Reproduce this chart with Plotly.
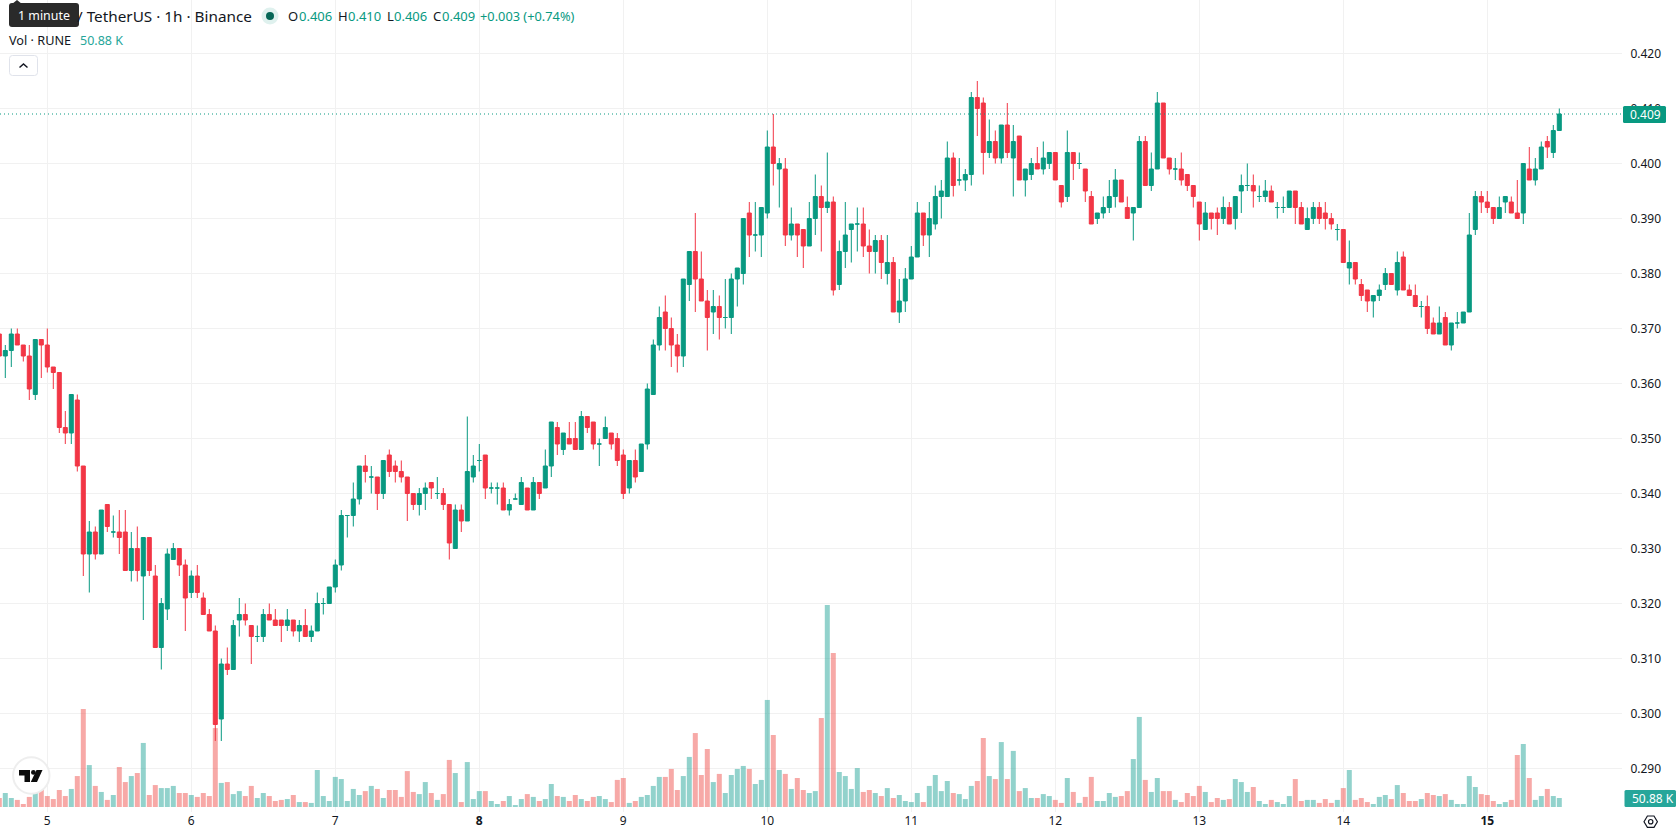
import plotly.graph_objects as go

# Hourly RUNE/USDT candles, hours counted from the start of day 5.
hours = list(range(-8, 253))

# Prices in thousandths of a USDT, one row per 24 hours.
opens_milli = [
    369, 365, 366, 369, 367, 365, 358, 368,
    367, 363, 362, 352, 351, 357, 345, 329, 333, 329, 338, 333, 333, 333, 326, 330, 325, 332, 325, 312, 319, 328, 330, 327,
    322, 325, 321, 318, 315, 299, 309, 308, 317, 318, 316, 314, 314, 318, 317, 317, 316, 317, 315, 316, 314, 315, 320, 320,
    323, 327, 336, 336, 339, 345, 343, 343, 340, 347, 345, 344, 343, 340, 338, 340, 342, 340, 340, 338, 330, 337, 335, 343,
    346, 347, 341, 341, 341, 337, 339, 338, 341, 337, 342, 341, 345, 352, 348, 350, 350, 348, 354, 353, 349, 350, 351, 350,
    347, 341, 346, 344, 349, 358, 367, 373, 370, 367, 365, 378, 384, 379, 375, 373, 374, 372, 372, 379, 380, 391, 387, 387,
    391, 403, 399, 399, 387, 389, 388, 385, 390, 394, 392, 393, 378, 384, 388, 389, 389, 385, 384, 386, 380, 382, 373, 375,
    379, 383, 391, 387, 389, 394, 394, 401, 397, 397, 398, 412, 411, 402, 404, 401, 407, 401, 405, 397, 398, 400, 399, 400,
    402, 396, 394, 402, 400, 399, 394, 390, 391, 392, 394, 397, 392, 391, 392, 404, 396, 399, 411, 401, 399, 399, 398, 396,
    393, 388, 391, 391, 390, 392, 390, 395, 396, 396, 394, 394, 395, 392, 392, 392, 395, 392, 388, 390, 392, 391, 390, 388,
    388, 381, 382, 378, 377, 375, 376, 378, 380, 377, 383, 377, 376, 374, 374, 371, 369, 372, 367, 371, 371, 373, 388, 394,
    393, 392, 390, 393, 393, 391, 391, 399, 397, 399, 404, 402, 406,
]
closes_milli = [
    365, 366, 369, 367, 365, 359, 368, 367,
    363, 362, 352, 351, 358, 345, 329, 333, 329, 337, 334, 333, 332, 326, 330, 326, 332, 326, 312, 320, 329, 330, 327, 321,
    325, 322, 318, 315, 298, 309, 308, 316, 318, 317, 314, 314, 318, 317, 316, 316, 317, 315, 316, 314, 315, 320, 320, 323,
    327, 336, 336, 339, 345, 344, 343, 340, 346, 344, 344, 343, 340, 338, 340, 341, 341, 340, 338, 331, 337, 335, 344, 345,
    346, 341, 341, 341, 337, 338, 339, 342, 337, 342, 340, 345, 353, 349, 351, 349, 348, 354, 352, 349, 349, 352, 349, 346,
    340, 346, 343, 349, 359, 367, 372, 370, 367, 365, 379, 384, 379, 375, 372, 374, 372, 372, 379, 381, 390, 387, 387, 392,
    403, 400, 400, 387, 389, 387, 385, 390, 394, 392, 393, 377, 384, 387, 389, 389, 385, 384, 386, 382, 382, 373, 375, 379,
    383, 391, 387, 390, 394, 395, 401, 396, 397, 398, 412, 410, 402, 404, 401, 407, 402, 404, 397, 399, 400, 399, 401, 402,
    397, 393, 402, 400, 400, 395, 389, 391, 392, 394, 397, 393, 390, 392, 404, 396, 399, 411, 401, 399, 399, 397, 396, 394,
    389, 391, 390, 390, 392, 389, 394, 396, 396, 395, 394, 395, 393, 392, 392, 395, 392, 389, 390, 392, 390, 390, 389, 388,
    382, 382, 379, 376, 375, 376, 377, 380, 378, 382, 377, 376, 374, 374, 370, 369, 371, 367, 371, 371, 373, 387, 394, 393,
    392, 390, 392, 394, 391, 390, 400, 397, 399, 403, 403, 406, 409,
]
highs_milli = [
    369, 367, 370, 370, 367, 367, 368, 368,
    370, 363, 362, 355, 358, 358, 345, 335, 334, 337, 338, 336, 337, 337, 333, 334, 332, 332, 327, 321, 330, 331, 330, 328,
    326, 327, 322, 319, 316, 310, 312, 317, 321, 320, 316, 316, 319, 320, 319, 317, 319, 317, 317, 319, 316, 322, 321, 323,
    328, 337, 336, 342, 345, 347, 345, 343, 346, 348, 346, 346, 343, 340, 341, 342, 342, 343, 341, 338, 338, 338, 354, 347,
    349, 347, 342, 342, 342, 339, 340, 343, 341, 343, 342, 348, 353, 353, 351, 353, 353, 355, 354, 353, 350, 354, 351, 351,
    348, 346, 348, 349, 360, 368, 374, 376, 372, 369, 379, 384, 391, 384, 377, 377, 376, 379, 380, 381, 390, 393, 393, 392,
    406, 409, 401, 401, 392, 389, 388, 393, 398, 396, 402, 394, 386, 393, 389, 392, 392, 388, 387, 387, 387, 383, 379, 381,
    385, 393, 391, 393, 396, 397, 404, 402, 401, 399, 413, 415, 412, 408, 406, 407, 411, 407, 405, 399, 401, 403, 404, 402,
    402, 396, 406, 402, 402, 399, 395, 391, 394, 397, 399, 397, 394, 392, 405, 405, 402, 413, 411, 401, 401, 402, 398, 396,
    393, 393, 391, 392, 394, 393, 394, 398, 400, 398, 396, 397, 396, 393, 394, 395, 395, 393, 392, 393, 393, 393, 391, 389,
    388, 386, 382, 379, 377, 376, 378, 381, 380, 384, 384, 378, 378, 375, 376, 372, 374, 373, 371, 373, 373, 391, 395, 395,
    395, 392, 394, 394, 394, 397, 400, 403, 401, 404, 405, 407, 410,
]
lows_milli = [
    365, 361, 363, 367, 364, 357, 357, 361,
    362, 359, 351, 349, 349, 344, 325, 322, 328, 329, 333, 332, 329, 326, 324, 324, 317, 325, 312, 308, 317, 328, 325, 315,
    321, 321, 318, 315, 295, 295, 307, 308, 314, 316, 309, 313, 313, 317, 316, 313, 315, 314, 313, 314, 313, 315, 318, 320,
    322, 326, 332, 334, 338, 342, 340, 337, 339, 343, 342, 342, 335, 337, 336, 337, 339, 339, 337, 328, 330, 333, 335, 342,
    344, 339, 340, 338, 337, 336, 339, 338, 337, 337, 339, 341, 343, 347, 347, 349, 348, 348, 351, 348, 345, 350, 348, 345,
    339, 340, 342, 344, 348, 358, 366, 366, 363, 362, 363, 375, 373, 375, 366, 369, 368, 370, 369, 374, 378, 383, 384, 383,
    390, 396, 392, 385, 386, 383, 381, 385, 387, 384, 391, 376, 377, 381, 382, 384, 383, 380, 380, 379, 378, 373, 371, 373,
    379, 383, 385, 383, 388, 390, 394, 394, 396, 395, 396, 405, 398, 401, 400, 400, 401, 394, 397, 394, 397, 399, 398, 399,
    397, 392, 393, 397, 399, 393, 389, 389, 390, 391, 392, 393, 390, 386, 392, 396, 395, 399, 401, 398, 397, 396, 395, 392,
    386, 388, 388, 387, 389, 389, 388, 391, 395, 392, 393, 393, 393, 390, 391, 392, 389, 389, 388, 389, 389, 388, 388, 386,
    382, 378, 378, 375, 373, 372, 375, 377, 378, 376, 377, 376, 374, 372, 369, 369, 369, 367, 366, 370, 371, 373, 387, 391,
    391, 389, 390, 391, 391, 390, 389, 397, 396, 399, 401, 401, 406,
]

# Traded volume in thousands of RUNE.
volumes_k = [
    51, 79, 51, 40, 17, 57, 90, 107,
    62, 45, 96, 62, 102, 175, 554, 237, 119, 85, 40, 68, 226, 141, 175, 192, 362, 68, 124, 107, 107, 119, 79, 79,
    68, 57, 79, 62, 446, 136, 141, 73, 90, 62, 119, 51, 79, 62, 34, 40, 45, 68, 28, 28, 23, 209, 62, 34,
    170, 158, 34, 102, 68, 90, 119, 102, 51, 96, 96, 57, 203, 85, 73, 141, 79, 40, 73, 266, 192, 28, 254, 45,
    90, 90, 34, 17, 34, 62, 11, 45, 73, 57, 34, 45, 130, 62, 57, 34, 68, 45, 34, 57, 62, 45, 28, 153,
    164, 23, 34, 57, 68, 119, 170, 170, 215, 96, 175, 283, 418, 181, 328, 141, 187, 79, 181, 215, 232, 215, 130, 153,
    605, 407, 209, 187, 102, 164, 96, 79, 90, 503, 1142, 870, 198, 175, 102, 220, 85, 96, 79, 62, 107, 51, 68, 34,
    28, 79, 28, 119, 181, 90, 147, 79, 73, 45, 119, 147, 390, 175, 158, 367, 158, 317, 90, 107, 51, 51, 73, 62,
    40, 23, 164, 85, 23, 57, 170, 34, 34, 79, 57, 62, 90, 271, 509, 153, 85, 164, 90, 90, 40, 28, 79, 62,
    119, 85, 28, 51, 40, 45, 158, 141, 85, 113, 34, 17, 40, 28, 17, 62, 158, 34, 40, 40, 23, 45, 23, 40,
    107, 209, 40, 51, 28, 17, 57, 68, 45, 124, 79, 34, 34, 45, 79, 68, 62, 73, 40, 17, 17, 175, 113, 73,
    68, 34, 17, 28, 40, 294, 356, 164, 40, 62, 102, 62, 50.88,
]

day_ticks = [0, 24, 48, 72, 96, 120, 144, 168, 192, 216, 240]
day_labels = ["5", "6", "7", "<b>8</b>", "9", "10", "11", "12", "13", "14", "<b>15</b>"]
price_ticks = [0.29, 0.30, 0.31, 0.32, 0.33, 0.34, 0.35, 0.36, 0.37, 0.38, 0.39, 0.40, 0.41, 0.42]
last_price = 0.409

UP = "#089981"
DOWN = "#F23645"
UP_VOL = "rgba(38,166,154,0.5)"
DOWN_VOL = "rgba(239,83,80,0.5)"
INK = "#131722"
GRID = "#f1f1f1"
FONT = "Noto Sans"

W, H = 1678, 835
PLOT_W, PLOT_H = 1622, 812


def X(px):
    return px / PLOT_W


def Y(py):
    return 1 - py / PLOT_H


opens = [v / 1000 for v in opens_milli]
closes = [v / 1000 for v in closes_milli]
highs = [v / 1000 for v in highs_milli]
lows = [v / 1000 for v in lows_milli]

is_up = [c >= o for o, c in zip(opens, closes)]
up_idx = [i for i, u in enumerate(is_up) if u]
down_idx = [i for i, u in enumerate(is_up) if not u]


def candles(idx, color):
    return go.Candlestick(
        x=[hours[i] for i in idx],
        open=[opens[i] for i in idx],
        high=[highs[i] for i in idx],
        low=[lows[i] for i in idx],
        close=[closes[i] for i in idx],
        increasing=dict(line=dict(color=color, width=1), fillcolor=color),
        decreasing=dict(line=dict(color=color, width=1), fillcolor=color),
        whiskerwidth=0,
        yaxis="y2",
        hoverinfo="skip",
        showlegend=False,
    )


fig = go.Figure()
fig.add_trace(go.Bar(
    x=hours,
    y=volumes_k,
    marker=dict(color=[UP_VOL if u else DOWN_VOL for u in is_up], line=dict(width=0)),
    yaxis="y",
    hoverinfo="skip",
    showlegend=False,
))
fig.add_trace(candles(up_idx, UP))
fig.add_trace(candles(down_idx, DOWN))


def rounded(x0, y0, x1, y1, r):
    return (
        f"M{X(x0 + r)},{Y(y0)} L{X(x1 - r)},{Y(y0)} Q{X(x1)},{Y(y0)} {X(x1)},{Y(y0 + r)} "
        f"L{X(x1)},{Y(y1 - r)} Q{X(x1)},{Y(y1)} {X(x1 - r)},{Y(y1)} "
        f"L{X(x0 + r)},{Y(y1)} Q{X(x0)},{Y(y1)} {X(x0)},{Y(y1 - r)} "
        f"L{X(x0)},{Y(y0 + r)} Q{X(x0)},{Y(y0)} {X(x0 + r)},{Y(y0)} Z"
    )


def poly(points, close=True):
    head = " L".join(f"{X(a)},{Y(b)}" for a, b in points)
    return "M" + head + (" Z" if close else "")


def panel_path(path, fill="rgba(0,0,0,0)", line=None, width=0):
    return dict(type="path", xref="paper", yref="paper", path=path, fillcolor=fill,
                line=dict(color=line or "rgba(0,0,0,0)", width=width), layer="above")


def disc(cx, cy, r, fill, line=None, width=0):
    return dict(type="circle", xref="paper", yref="paper",
                x0=X(cx - r), x1=X(cx + r), y0=Y(cy + r), y1=Y(cy - r),
                fillcolor=fill, line=dict(color=line or "rgba(0,0,0,0)", width=width), layer="above")


shapes = [
    # Last-price line
    dict(type="line", xref="paper", yref="y2", x0=0, x1=1, y0=last_price, y1=last_price,
         line=dict(color=UP, width=1, dash="1px,3px"), layer="above"),
    # Axis price and volume tags
    panel_path(rounded(1623, 106, 1666, 123, 1.5), fill=UP),
    panel_path(rounded(1624.5, 790, 1676, 807, 1.5), fill="#26a69a"),
    # Legend status dot
    disc(270, 16, 8.5, "#dff1ee"),
    disc(270, 16, 4, "#056656"),
    # Legend collapse button
    panel_path(rounded(9.5, 55.5, 37.5, 75.5, 3), fill="#ffffff", line="#e0e3eb", width=1),
    panel_path(poly([(19.5, 67.5), (23.5, 64), (27.5, 67.5)], close=False), line=INK, width=1.5),
    # Tooltip balloon
    panel_path(rounded(9, 3, 79, 27, 3), fill="#2a2a2a"),
    panel_path(poly([(12, 4), (17, 0), (22, 4)]), fill="#2a2a2a"),
    # Watermark badge
    disc(31.3, 775.5, 18.2, "#ffffff", line="#eeeeee", width=2),
    panel_path(poly([(19, 770), (30, 770), (30, 782), (24.5, 782), (24.5, 775.5), (19, 775.5)]), fill="#0b0b0b"),
    disc(33.4, 772.4, 2.4, "#0b0b0b"),
    panel_path(poly([(36.5, 770), (42.5, 770), (37, 782), (30.8, 782)]), fill="#0b0b0b"),
    # Settings icon
    panel_path(poly([(1644, 821.7), (1647.4, 816), (1654, 816), (1657.4, 821.7), (1654, 827.4), (1647.4, 827.4)]),
               line=INK, width=1.2),
    disc(1650.7, 821.7, 2.2, "rgba(0,0,0,0)", line=INK, width=1.2),
]


def label(px, py, text, color=INK, size=13, anchor="left"):
    return dict(xref="paper", yref="paper", x=X(px), y=Y(py), text=text, showarrow=False,
                xanchor=anchor, yanchor="middle", borderpad=0, borderwidth=0,
                font=dict(family=FONT, size=size, color=color))


annotations = [
    label(77, 16, "/ TetherUS · 1h · Binance", size=15.3),
    label(288, 16, "O"), label(299, 16, "0.406", UP),
    label(338, 16, "H"), label(348, 16, "0.410", UP),
    label(386.5, 16, "L"), label(394, 16, "0.406", UP),
    label(433, 16, "C"), label(441.5, 16, "0.409", UP),
    label(480, 16, "+0.003 (+0.74%)", UP, size=12.8),
    label(9, 40.5, "Vol · RUNE", size=12.7),
    label(80, 40.5, "50.88 K", "#26a69a", size=12.5),
    label(18, 16, "1 minute", "#ffffff", size=12.4),
    label(1630, 114.5, "0.409", "#ffffff", size=12),
    label(1632, 798.5, "50.88 K", "#ffffff", size=12),
]

fig.update_layout(
    width=W,
    height=H,
    autosize=False,
    margin=dict(l=0, r=W - PLOT_W, t=0, b=H - PLOT_H),
    paper_bgcolor="#ffffff",
    plot_bgcolor="#ffffff",
    bargap=1 / 6,
    boxgap=0.33,
    boxgroupgap=0,
    showlegend=False,
    font=dict(family=FONT, size=12, color=INK),
    hovermode=False,
    shapes=shapes,
    annotations=annotations,
    xaxis=dict(
        range=[-7.883, 262.45],
        tickmode="array",
        tickvals=day_ticks,
        ticktext=day_labels,
        showgrid=True,
        gridcolor=GRID,
        gridwidth=1,
        zeroline=False,
        showline=False,
        ticks="",
        rangeslider=dict(visible=False),
        tickfont=dict(family=FONT, size=12, color=INK),
    ),
    yaxis=dict(
        range=[-28.26, 4561],
        visible=False,
        showgrid=False,
        zeroline=False,
        fixedrange=True,
    ),
    yaxis2=dict(
        range=[0.28209, 0.42973],
        overlaying="y",
        side="right",
        anchor="x",
        tickmode="array",
        tickvals=price_ticks,
        tickformat=".3f",
        showgrid=True,
        gridcolor=GRID,
        gridwidth=1,
        zeroline=False,
        showline=False,
        ticks="outside",
        ticklen=5,
        tickcolor="rgba(0,0,0,0)",
        tickfont=dict(family=FONT, size=12, color=INK),
    ),
)

fig.write_html("out.html", config=dict(displayModeBar=False))
